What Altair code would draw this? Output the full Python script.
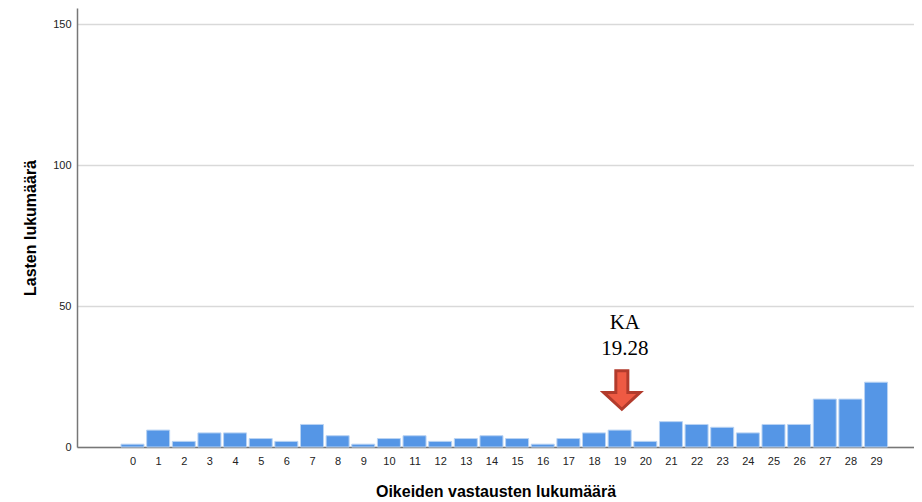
import altair as alt
import pandas as pd

# Data
scores = list(range(30))
counts = [1, 6, 2, 5, 5, 3, 2, 8, 4, 1, 3, 4, 2, 3, 4, 3, 1, 3, 5, 6, 2, 9, 8, 7, 5, 8, 8, 17, 17, 23]
y_ticks = [0, 50, 100, 150]
x_title = "Oikeiden vastausten lukumäärä"
y_title = "Lasten lukumäärä"
mean_label = "KA"

mean_val = sum(s * c for s, c in zip(scores, counts)) / sum(counts)

df = pd.DataFrame({"score": scores, "count": counts})

x_scale = alt.Scale(domain=[-2.165, 30.48], nice=False, zero=False, padding=0)
y_scale = alt.Scale(domain=[0, 155.8], nice=False, padding=0)

x_axis = alt.Axis(values=scores, title=x_title, grid=False, ticks=False,
                  labelPadding=8, labelFontSize=11, labelColor="#222",
                  labelFont="Liberation Sans", titleFont="Liberation Sans",
                  titleFontSize=16, titleFontWeight="bold", titleColor="#000",
                  titlePadding=17, domainColor="#777", domainWidth=1.5,
                  labelFlush=False, labelOverlap=False, labelSeparation=0)
y_axis = alt.Axis(values=y_ticks, title=y_title, grid=True, ticks=False,
                  gridColor="#d9d9d9", gridWidth=1.5,
                  labelPadding=6, labelFontSize=11, labelColor="#222",
                  labelFont="Liberation Sans", titleFont="Liberation Sans",
                  titleFontSize=16, titleFontWeight="bold", titleColor="#000",
                  titlePadding=14, domainColor="#777", domainWidth=1.5)

bars = alt.Chart(df).mark_bar(
    width=23, color="#5596e6", stroke="#b9d3f3", strokeWidth=1
).encode(
    x=alt.X("score:Q", scale=x_scale, axis=x_axis),
    y=alt.Y("count:Q", scale=y_scale, axis=y_axis),
)

ann = pd.DataFrame({"x": [mean_val], "y_arrow": [20.0], "y_text": [44.0],
                    "label": [[mean_label, f"{mean_val:.2f}"]]})

arrow_path = "M -0.33 -1.09 L 0.33 -1.09 L 0.33 0.1 L 1 0.1 L 0 1.02 L -1 0.1 L -0.33 0.1 Z"
arrow = alt.Chart(ann).mark_point(
    shape=arrow_path, size=1332, filled=True, fill="#ee5a43",
    stroke="#b23b2c", strokeWidth=3, opacity=1, strokeJoin="miter"
).encode(x=alt.X("x:Q", scale=x_scale, axis=x_axis),
         y=alt.Y("y_arrow:Q", scale=y_scale, axis=y_axis),
         xOffset=alt.value(-5))

text = alt.Chart(ann).mark_text(
    font="Liberation Serif", fontSize=21, color="#000", lineHeight=26,
    baseline="middle", align="center", dx=-2
).encode(x=alt.X("x:Q", scale=x_scale, axis=x_axis),
         y=alt.Y("y_text:Q", scale=y_scale, axis=y_axis),
         text="label")

chart = alt.layer(bars, arrow, text).properties(
    width=837, height=439,
    background="white",
    autosize=alt.AutoSizeParams(type="none"),
    padding={"left": 69, "top": 0, "right": 0, "bottom": 55},
).configure_view(stroke=None).configure_axisX(labelOverlap=False)

chart.save("out.html", embed_options={"renderer": "svg", "actions": False})
